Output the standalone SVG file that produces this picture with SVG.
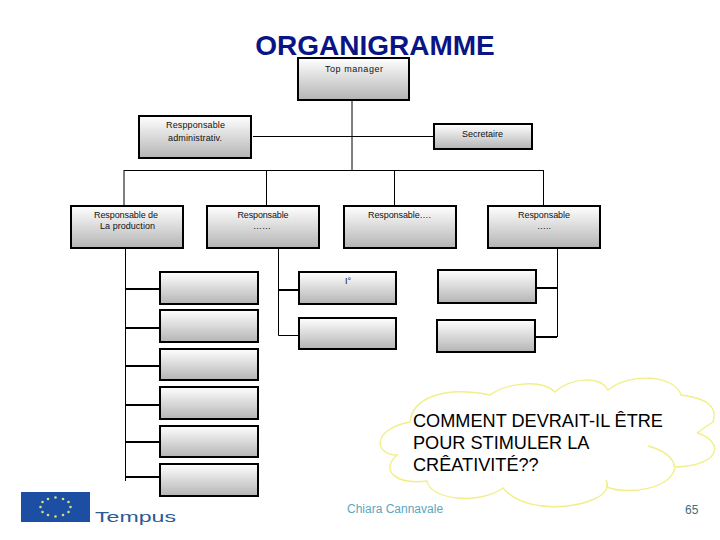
<svg xmlns="http://www.w3.org/2000/svg" width="720" height="540" viewBox="0 0 720 540">
<style>
.box{fill:url(#g);stroke:#000;stroke-width:2}
.t{font-family:"Liberation Sans",Arial,sans-serif;font-size:9px;fill:#111;text-anchor:middle}
.thin{stroke:#000;stroke-width:1;fill:none}
.thick{stroke:#000;stroke-width:1.8;fill:none}
.cl{fill:none;stroke:#f2ee88;stroke-width:1.4}
.big{font-family:"Liberation Sans",Arial,sans-serif;font-size:18.150px;fill:#000}
.star{fill:#d6e07a}
</style>
<defs>
<linearGradient id="g" x1="0" y1="0" x2="0" y2="1"><stop offset="0" stop-color="#fff"/><stop offset="1" stop-color="#b4b4b4"/></linearGradient>
</defs>
<rect width="720" height="540" fill="#fff"/>
<text id="title" x="375" y="54.500" text-anchor="middle" style="font-family:'Liberation Sans',Arial,sans-serif;font-size:28px;font-weight:bold;fill:#0a1484">ORGANIGRAMME</text>
<g id="connectors">
<path class="thin" d="M352 100V170M253 136.500H434M124 170.500H543M124 170V206M266.500 170V206M394.500 170V206M543.500 170V206"/>
<path class="thin" d="M125.500 248V481M278.500 248V335.500H299M557.500 248V337"/>
<path class="thick" d="M125 289H160M125 328H160M125 366H160M125 405H160M125 442H160M125 477H160M278 290H299M536 288H557M535 337H557"/>
</g>
<g id="n-top"><rect class="box" x="298" y="58" width="111" height="42"/><text class="t" x="354" y="72" textLength="58">Top manager</text></g>
<g id="n-admin"><rect class="box" x="139" y="116" width="112" height="42"/><text class="t" x="195.500" y="128" textLength="59">Respponsable</text><text class="t" x="195" y="141" textLength="54">administrativ.</text></g>
<g id="n-sec"><rect class="box" x="434" y="124" width="98" height="25"/><text class="t" x="482.500" y="137" textLength="41">Secretaire</text></g>
<g id="n-prod"><rect class="box" x="71" y="206" width="112" height="42"/><text class="t" x="126" y="218" textLength="64">Responsable de</text><text class="t" x="127.500" y="229" textLength="55">La production</text></g>
<g id="n-r1"><rect class="box" x="207" y="206" width="112" height="42"/><text class="t" x="263" y="218" textLength="51">Responsable</text><text class="t" x="262" y="229">……</text></g>
<g id="n-r2"><rect class="box" x="344" y="206" width="112" height="42"/><text class="t" x="399.500" y="218" textLength="63">Responsable….</text></g>
<g id="n-r3"><rect class="box" x="488" y="206" width="112" height="42"/><text class="t" x="544" y="218" textLength="52">Responsable</text><text class="t" x="544" y="229">…..</text></g>
<g id="n-a1"><rect class="box" x="160" y="272" width="98" height="32"/></g>
<g id="n-a2"><rect class="box" x="160" y="310" width="98" height="32"/></g>
<g id="n-a3"><rect class="box" x="160" y="349" width="98" height="31"/></g>
<g id="n-a4"><rect class="box" x="160" y="387" width="98" height="32"/></g>
<g id="n-a5"><rect class="box" x="160" y="426" width="98" height="31"/></g>
<g id="n-a6"><rect class="box" x="160" y="464" width="98" height="32"/></g>
<g id="n-b1"><rect class="box" x="299" y="272" width="97" height="32"/><text class="t" x="348" y="284">I°</text></g>
<g id="n-b2"><rect class="box" x="299" y="318" width="97" height="31"/></g>
<g id="n-c1"><rect class="box" x="438" y="270" width="98" height="33"/></g>
<g id="n-c2"><rect class="box" x="437" y="320" width="98" height="32"/></g>
<g id="cloud">
<path class="cl" d="M410 422C412 400 440 385 490 395C505 384 540 378 555 392C570 378 600 375 608 390C630 372 675 375 681 395C705 398 718 405 713 422C700 430 698 433 697 433C722 440 725 465 675 467C672 490 625 495 607 487C605 505 530 520 503 488C480 505 430 500 427 481C395 485 380 470 397 455C375 455 370 430 410 422Z"/>
<path class="cl" d="M648 446C665 450 675 460 674 467M607 487C608 483 606 480 606 480"/>
</g>
<g id="cloud-text">
<text class="big" x="413" y="427">COMMENT DEVRAIT-IL ÊTRE</text>
<text class="big" x="413" y="449">POUR STIMULER LA</text>
<text class="big" x="413" y="471">CRÊATIVITÉ??</text>
</g>
<g id="logo">
<rect x="21" y="492" width="69" height="30" fill="#1c4fa3"/>
<g class="star"><circle cx="55.500" cy="497.500" r="1.300"/><circle cx="63" cy="499" r="1.300"/><circle cx="68.500" cy="502" r="1.300"/><circle cx="70.500" cy="507" r="1.300"/><circle cx="68.500" cy="512" r="1.300"/><circle cx="63" cy="515" r="1.300"/><circle cx="55.500" cy="516.500" r="1.300"/><circle cx="48" cy="515" r="1.300"/><circle cx="42.500" cy="512" r="1.300"/><circle cx="40.500" cy="507" r="1.300"/><circle cx="42.500" cy="502" r="1.300"/><circle cx="48" cy="499" r="1.300"/></g>
<text x="95" y="522" textLength="81" lengthAdjust="spacingAndGlyphs" style="font-family:'Liberation Sans',Arial,sans-serif;font-size:15.500px;fill:#2c5a94">Tempus</text>
</g>
<text x="347" y="513" style="font-family:'Liberation Sans',Arial,sans-serif;font-size:12px;fill:#5ba6bf">Chiara Cannavale</text>
<text x="685" y="514" style="font-family:'Liberation Sans',Arial,sans-serif;font-size:12px;fill:#3f6c82">65</text>
</svg>
